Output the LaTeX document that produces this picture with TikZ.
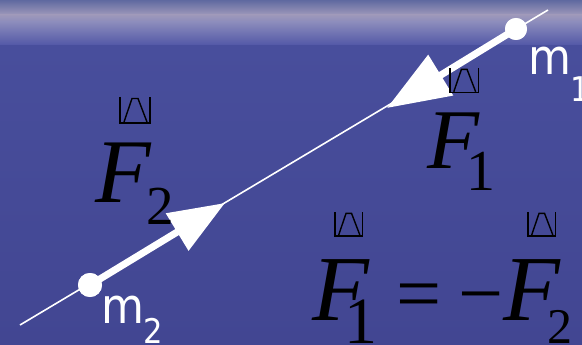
\documentclass[tikz,border=0pt]{standalone}
\usepackage{fontspec}
\setmainfont{Liberation Serif}
\newfontfamily\msans[FakeStretch=0.9]{DejaVu Sans}
\usetikzlibrary{arrows.meta}
\definecolor{bgA}{RGB}{95,105,160}
\definecolor{bgB}{RGB}{158,152,186}
\definecolor{bgC}{RGB}{140,140,188}
\definecolor{bgD}{RGB}{80,86,166}
\definecolor{bgE}{RGB}{72,78,156}
\definecolor{bgF}{RGB}{66,70,146}
\tikzset{
  txt/.style={inner sep=0pt, anchor=base west},
  forcelbl/.style={txt, text=black, font=\itshape\fontsize{88}{88}\selectfont},
  sublbl/.style={txt, text=black},
  masslbl/.style={txt, text=white, font=\msans\fontsize{49}{49}\selectfont},
  msub/.style={txt, text=white, font=\msans\fontsize{34}{34}\selectfont},
  massdot/.style={circle, fill=white, inner sep=0pt},
  forcearrow/.style={white, line width=7pt},
  vecsym/.pic={
    \draw[black, line width=1.4pt] (0,0) -- (0,26) -- (30,26) -- (30,0);
    \draw[black, line width=1.4pt] (4,25) -- (12,1.5) -- (18,1.5) -- (27,25);
  }
}
\begin{document}
\begin{tikzpicture}[x=1pt, y=-1pt]
\useasboundingbox (0,0) rectangle (582,345);
% background
\fill[top color=bgA, bottom color=bgB] (0,0) rectangle (582,15);
\fill[top color=bgB, bottom color=bgC] (0,15) rectangle (582,22);
\fill[top color=bgC, bottom color=bgD] (0,22) rectangle (582,46);
\fill[top color=bgE, bottom color=bgF] (0,46) rectangle (582,345.5);
% line of action
\coordinate (la) at (20,325);
\coordinate (lb) at (548,10);
\draw[white, line width=1.6pt] (la) -- (lb);
% masses
\node[massdot, minimum size=22pt] (m1) at (516,29) {};
\node[massdot, minimum size=24pt] (m2) at (90,285) {};
\coordinate (t1) at (387,108);
\coordinate (t2) at (225,203);
\draw[forcearrow, -{Triangle[length=63pt, width=46pt]}] (m1.center) -- (t1);
\draw[forcearrow, -{Triangle[length=56pt, width=42pt]}] (m2.center) -- (t2);
\node[massdot, minimum size=22pt] at (m1) {};
\node[massdot, minimum size=24pt] at (m2) {};
% mass labels
\node[masslbl] (lm1) at (528,75) {m};
\node[msub] (lm1s) at (570,102) {1};
\node[masslbl] (lm2) at (101,323) {m};
\node[msub] (lm2s) at (143,343) {2};
% F2 label
\node[forcelbl, font=\itshape\fontsize{91}{91}\selectfont] (f2) at (95,202) {F};
\node[sublbl, font=\fontsize{55}{55}\selectfont] (f2s) at (146,225) {2};
\pic at (120,97) {vecsym};
% F1 label
\node[forcelbl, font=\itshape\fontsize{85}{85}\selectfont] (f1) at (427,168) {F};
\node[sublbl, font=\fontsize{58}{58}\selectfont] (f1s) at (466,190) {1};
\pic[scale=0.95] at (450,68) {vecsym};
% equation
\node[forcelbl, font=\itshape\fontsize{93}{93}\selectfont] (e1) at (312,320) {F};
\node[sublbl, font=\fontsize{66}{66}\selectfont] (e1s) at (344,343) {1};
\node[sublbl, font=\fontsize{80}{80}\selectfont] (eq) at (396,320) {=};
\node[sublbl, font=\fontsize{80}{80}\selectfont] (mi) at (458,320) {−};
\node[forcelbl, font=\itshape\fontsize{93}{93}\selectfont] (e2) at (503,320) {F};
\node[sublbl, font=\fontsize{50}{50}\selectfont] (e2s) at (547,343) {2};
\pic[scale=0.92] at (335,212) {vecsym};
\pic[scale=0.92] at (528,212) {vecsym};
\end{tikzpicture}
\end{document}
